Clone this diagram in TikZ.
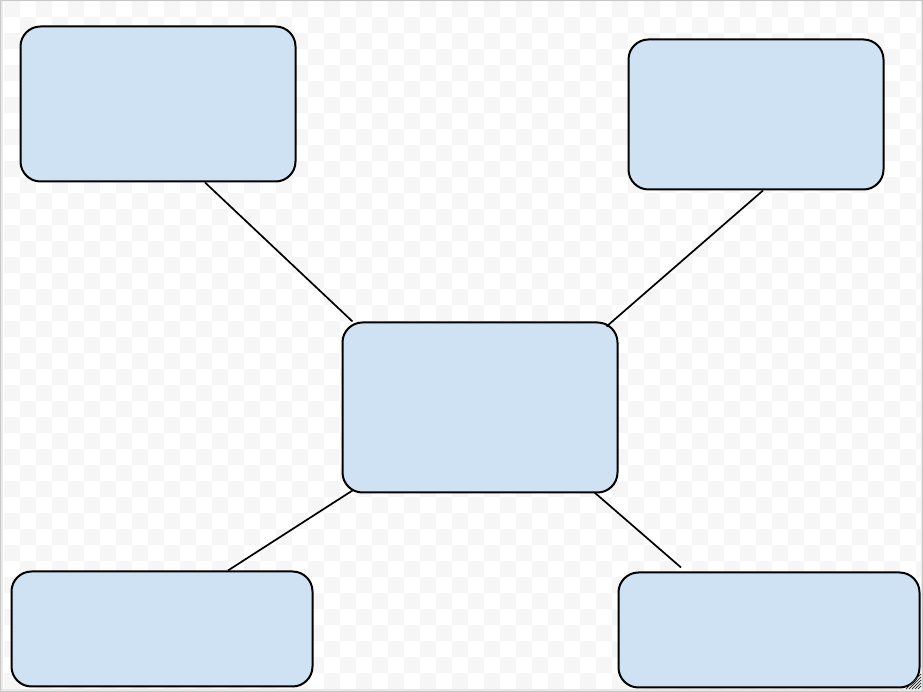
\documentclass[tikz,border=0pt]{standalone}
\usepackage{tikz}
\usetikzlibrary{shapes}

\definecolor{boxblue}{HTML}{CFE2F3}
\definecolor{checkgray}{HTML}{F6F6F6}
\definecolor{framegray}{HTML}{C8C8C8}

\begin{document}
\begin{tikzpicture}[x=1pt,y=1pt]

  \tikzstyle{box}=[rectangle,rounded corners=20pt,draw=black,line width=2pt,fill=boxblue,inner sep=0pt]
  \tikzstyle{link}=[draw=black,line width=1.7pt]

  \useasboundingbox (0,0) rectangle (923,692);

  % frame and checkered background
  \fill[framegray!40] (0,0) rectangle (923,692);
  \draw[framegray,line width=1pt] (0.5,0.5) rectangle (922.5,691.5);
  \fill[white] (3,3) rectangle (921,691);
  \begin{scope}
    \clip (3,3) rectangle (921,691);
    \foreach \i in {0,2,...,56}
      \foreach \j in {0,2,...,42} {
        \fill[checkgray] (3.5+16*\i,691-16*\j) rectangle ++(16,-16);
        \fill[checkgray] (19.5+16*\i,675-16*\j) rectangle ++(16,-16);
      }
  \end{scope}

  \path  (158,588)   node[box,minimum width=275pt,minimum height=155pt]   (tl) {}
         (756,577.5) node[box,minimum width=255pt,minimum height=150pt]   (tr) {}
         (480,284.5) node[box,minimum width=275pt,minimum height=170pt]   (c)  {}
         (162,63)    node[box,minimum width=301pt,minimum height=115pt]   (bl) {}
         (769,62)    node[box,minimum width=301pt,minimum height=115pt]   (br) {};

  \draw[link] ([xshift=47pt]tl.south) -- ([xshift=11pt]c.north west);
  \draw[link] ([xshift=7pt]tr.south) -- ([shift={(-12pt,-5pt)}]c.north east);
  \draw[link] ([shift={(11pt,3pt)}]c.south west) -- ([xshift=66pt]bl.north);
  \draw[link] ([shift={(-24pt,1pt)}]c.south east) -- ([shift={(-88pt,4pt)}]br.north);

  % resize grip
  \foreach \k in {3,6,...,15}
    \draw[black!80,line width=0.8pt] (921-\k,3) -- (921,3+\k);

\end{tikzpicture}
\end{document}
